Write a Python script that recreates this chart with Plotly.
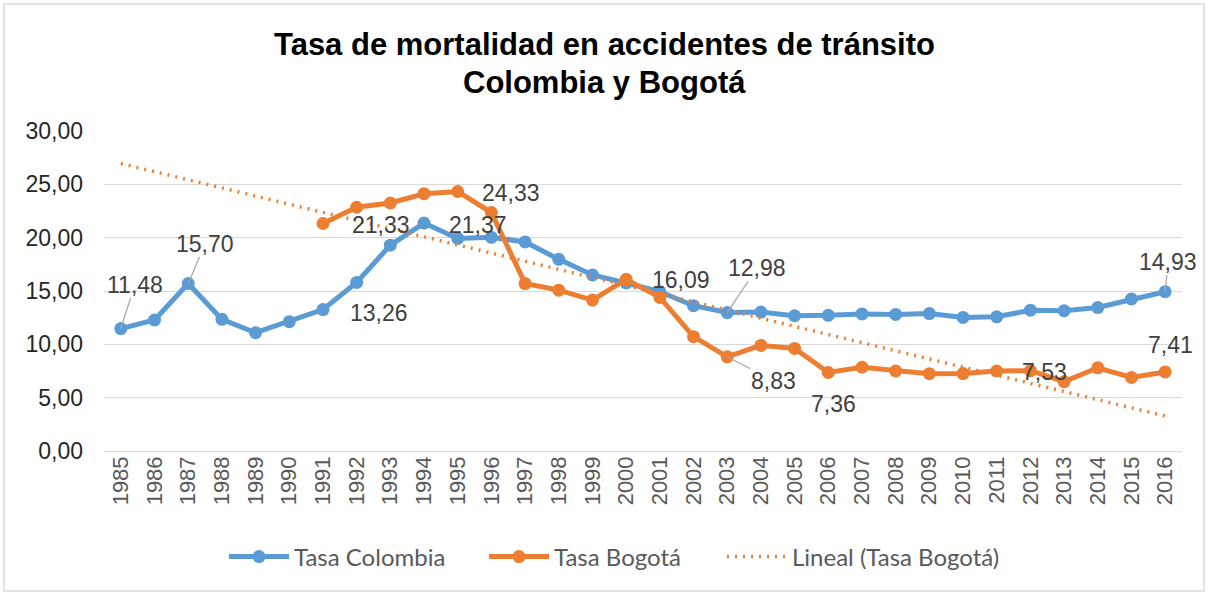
import numpy as np
import plotly.graph_objects as go

# Years on the category axis
years = list(range(1985, 2017))

# Mortality rate, Colombia (per 100.000 inhabitants)
tasa_colombia = [11.48, 12.28, 15.70, 12.34, 11.09, 12.12, 13.26, 15.80, 19.30, 21.37,
                 19.93, 20.03, 19.60, 17.97, 16.50, 15.75, 14.93, 13.62, 12.98, 13.02,
                 12.68, 12.72, 12.85, 12.80, 12.88, 12.52, 12.58, 13.20, 13.15, 13.45,
                 14.25, 14.93]

# Mortality rate, Bogotá (series starts in 1991)
tasa_bogota = [None, None, None, None, None, None, 21.33, 22.85, 23.25, 24.12,
               24.33, 22.35, 15.70, 15.08, 14.15, 16.09, 14.40, 10.72, 8.83, 9.90,
               9.62, 7.36, 7.85, 7.50, 7.25, 7.26, 7.50, 7.53, 6.50, 7.80,
               6.90, 7.41]

# Data labels: (year, dx, dy, leader line)
labels_colombia = [(1985, 14, -44, True), (1987, 17, -40, True), (1991, 56, 3, False),
                   (1994, 54, 2, False), (2003, 30, -45, True), (2016, 3, -30, True)]
labels_bogota = [(1991, 58, 2, False), (1995, 53, 2, False), (2000, 55, 1, False),
                 (2003, 46, 24, True), (2006, 5, 32, False), (2012, 14, 1, False),
                 (2016, 5, -27, False)]

title_lines = ["Tasa de mortalidad en accidentes de tránsito", "Colombia y Bogotá"]

BLUE = "#5B9BD5"
ORANGE = "#ED7D31"
GRID = "#D9D9D9"
SANS = "Liberation Sans, Arial, sans-serif"

W, H = 1208, 595
ml, mr, mt, mb = 104, 26, 131, 144
pw, ph = W - ml - mr, H - mt - mb


def px_x(px):
    return (px - ml) / pw


def px_y(py):
    return (H - mb - py) / ph


# Linear trend of the Bogotá series over the category index (like a spreadsheet trendline)
idx = np.arange(1, len(years) + 1)
mask = np.array([v is not None for v in tasa_bogota])
yb = np.array([v for v in tasa_bogota if v is not None], dtype=float)
slope, intercept = np.polyfit(idx[mask], yb, 1)
trend = slope * idx + intercept

fig = go.Figure()
fig.add_trace(go.Scatter(
    x=years, y=tasa_colombia, name="Tasa Colombia", mode="lines+markers",
    line=dict(color=BLUE, width=5), marker=dict(color=BLUE, size=13),
    legend="legend",
))
fig.add_trace(go.Scatter(
    x=years, y=tasa_bogota, name="Tasa Bogotá", mode="lines+markers",
    line=dict(color=ORANGE, width=5), marker=dict(color=ORANGE, size=13),
    connectgaps=False, legend="legend2",
))
fig.add_trace(go.Scatter(
    x=years, y=trend, name="Lineal (Tasa Bogotá)", mode="lines",
    line=dict(color=ORANGE, width=3.5, dash="2px,6px"),
    legend="legend3",
))

annotations = []
label_font = dict(family=SANS, size=23, color="#404040")


def add_labels(series, specs):
    for year, dx, dy, leader in specs:
        val = series[years.index(year)]
        txt = f"{val:.2f}".replace(".", ",")
        if leader:
            annotations.append(dict(
                x=year, y=val, xref="x", yref="y", text=txt, font=label_font,
                showarrow=True, arrowhead=0, arrowwidth=1.2, arrowcolor="#A6A6A6",
                ax=dx, ay=dy, standoff=0, borderpad=0,
            ))
        else:
            annotations.append(dict(
                x=year, y=val, xref="x", yref="y", text=txt, font=label_font,
                showarrow=False, xshift=dx, yshift=-dy,
            ))


add_labels(tasa_colombia, labels_colombia)
add_labels(tasa_bogota, labels_bogota)

# Two-line bold title
for line, cy in zip(title_lines, [45, 82]):
    annotations.append(dict(
        text=f"<b>{line}</b>", xref="paper", yref="paper",
        x=px_x(W / 2), y=px_y(cy), xanchor="center", yanchor="middle",
        showarrow=False, font=dict(family=SANS, size=31, color="#000000"),
    ))

legend_style = dict(
    orientation="h", xanchor="left", yanchor="middle", y=px_y(557),
    font=dict(family="Lato, Open Sans, sans-serif", size=24, color="#595959"),
    itemwidth=60, bgcolor="rgba(0,0,0,0)",
)

fig.update_layout(
    width=W, height=H,
    margin=dict(l=ml, r=mr, t=mt, b=mb),
    paper_bgcolor="white", plot_bgcolor="white",
    separators=",.",
    xaxis=dict(
        range=[1984.5, 2016.5], tickmode="array", tickvals=years,
        ticktext=[str(y) for y in years], tickangle=-90,
        showgrid=False, zeroline=False, showline=False, ticks="",
        tickfont=dict(family=SANS, size=22, color="#595959"),
    ),
    yaxis=dict(
        range=[0, 30], dtick=5, tickformat=".2f",
        showgrid=True, gridcolor=GRID, gridwidth=1.3,
        zeroline=True, zerolinecolor=GRID, zerolinewidth=1.3,
        showline=False, ticks="", ticklabelstandoff=20,
        tickfont=dict(family=SANS, size=23, color="#262626"),
    ),
    legend=dict(legend_style, x=px_x(224)),
    legend2=dict(legend_style, x=px_x(484)),
    legend3=dict(legend_style, x=px_x(722)),
    annotations=annotations,
    shapes=[dict(
        type="rect", xref="paper", yref="paper",
        x0=px_x(4), x1=px_x(1204), y0=px_y(591), y1=px_y(4),
        line=dict(color=GRID, width=1.5), fillcolor="rgba(0,0,0,0)", layer="below",
    )],
    showlegend=True,
)

fig.write_html("out.html")
